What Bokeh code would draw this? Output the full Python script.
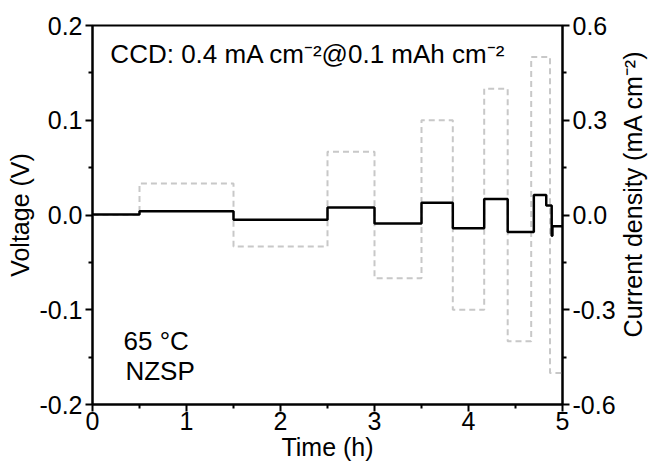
import math
from bokeh.plotting import figure
from bokeh.layouts import row
from bokeh.models import Range1d, LinearAxis, FixedTicker, PrintfTickFormatter, Label
from bokeh.embed import file_html
from bokeh.resources import INLINE

FONT = "Liberation Sans"

# Current density (mA cm-2): step start times (h) and values
current_t = [0, 0.5, 1.5, 2.5, 3.0, 3.5, 3.833, 4.167, 4.417, 4.667, 4.867, 5.0]
current_j = [0.0, 0.1, -0.1, 0.2, -0.2, 0.3, -0.3, 0.4, -0.4, 0.5, -0.5, -0.5]

# Voltage (V): step start times (h) and values
voltage_t = [0, 0.5, 1.5, 2.5, 3.0, 3.5, 3.833, 4.167, 4.417, 4.695, 4.827, 4.885, 4.893, 5.0]
voltage_v = [0.0005, 0.004, -0.005, 0.008, -0.009, 0.013, -0.014, 0.017, -0.018, 0.021, 0.010, -0.022, -0.012, -0.012]

# Tick positions
x_ticks = [0, 1, 2, 3, 4, 5]
x_minor = [0.5, 1.5, 2.5, 3.5, 4.5]
v_ticks = [-0.2, -0.1, 0.0, 0.1, 0.2]
v_minor = [-0.15, -0.05, 0.05, 0.15]
j_ticks = [-0.6, -0.3, 0.0, 0.3, 0.6]
j_minor = [-0.45, -0.15, 0.15, 0.45]

p = figure(width=618, height=464, x_range=Range1d(0, 5), y_range=Range1d(-0.2, 0.2),
           output_backend="svg", toolbar_location=None,
           min_border_left=92, min_border_right=55, min_border_top=25, min_border_bottom=60)
p.extra_y_ranges = {"cur": Range1d(-0.6, 0.6)}

p.xgrid.visible = False
p.ygrid.visible = False
p.outline_line_color = "black"
p.outline_line_width = 2
p.background_fill_color = "white"
p.border_fill_color = "white"

p.step(current_t, current_j, mode="after", y_range_name="cur",
       line_color="#c8c8c8", line_width=2, line_dash="6 4")
p.step(voltage_t, voltage_v, mode="after", line_color="black", line_width=2.5)

right = LinearAxis(y_range_name="cur")
p.add_layout(right, "right")


def style(ax, ticks, minor, fmt, label):
    ax.ticker = FixedTicker(ticks=ticks, minor_ticks=minor)
    if fmt:
        ax.formatter = PrintfTickFormatter(format=fmt)
    if label:
        ax.axis_label = label
    ax.axis_line_width = 2
    ax.axis_line_color = "black"
    ax.major_tick_line_width = 2
    ax.minor_tick_line_width = 2
    ax.major_tick_in = 0
    ax.major_tick_out = 7
    ax.minor_tick_in = 0
    ax.minor_tick_out = 4
    ax.major_label_text_font = FONT
    ax.major_label_text_font_size = "25px"
    ax.major_label_text_color = "black"
    ax.axis_label_text_font = FONT
    ax.axis_label_text_font_size = "25px"
    ax.axis_label_text_font_style = "normal"
    ax.axis_label_text_color = "black"
    ax.major_label_standoff = 3
    ax.axis_label_standoff = 2


style(p.xaxis[0], x_ticks, x_minor, None, "Time (h)")
style(p.yaxis[0], v_ticks, v_minor, "%.1f", "Voltage (V)")
style(right, j_ticks, j_minor, "%.1f", None)
p.xaxis[0].major_label_standoff = 0
p.xaxis[0].axis_label_standoff = 0

for txt, x, y in [("CCD: 0.4 mA cm⁻²@0.1 mAh cm⁻²", 0.19, 0.170),
                  ("65 °C", 0.33, -0.133),
                  ("NZSP", 0.35, -0.165)]:
    p.add_layout(Label(x=x, y=y, text=txt, text_font=FONT, text_font_size="26px",
                       text_color="black", text_baseline="alphabetic", text_align="left"))

# narrow strip holding the right-axis title, reading bottom to top as in the reference
t = figure(width=30, height=464, x_range=Range1d(0, 1), y_range=Range1d(0, 1),
           output_backend="svg", toolbar_location=None, min_border=0)
t.axis.visible = False
t.xgrid.visible = False
t.ygrid.visible = False
t.outline_line_color = None
t.background_fill_color = "white"
t.border_fill_color = "white"
t.add_layout(Label(x=0.47, y=0.556, text="Current density (mA cm⁻²)", angle=math.pi / 2,
                   text_font=FONT, text_font_size="25px", text_color="black",
                   text_align="center", text_baseline="middle"))

layout = row(p, t, spacing=0)
open("out.html", "w").write(file_html(layout, INLINE))
